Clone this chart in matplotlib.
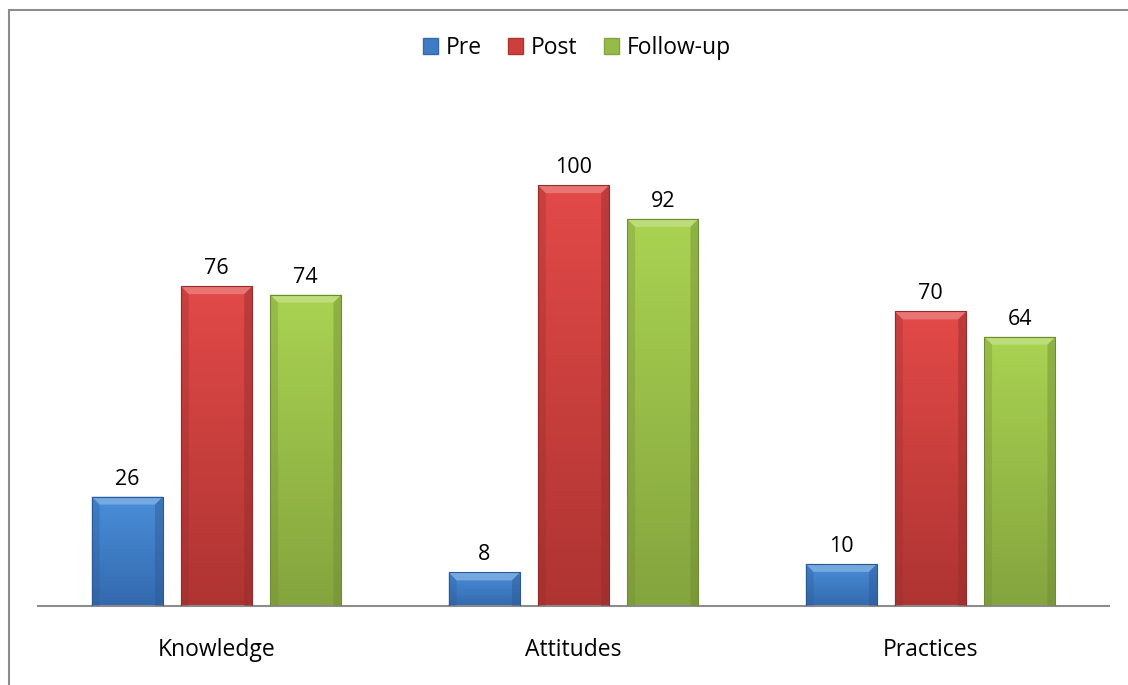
import numpy as np
import matplotlib
matplotlib.use("Agg")
import matplotlib.pyplot as plt
from matplotlib.patches import Patch, Polygon, Rectangle
from matplotlib.colors import LinearSegmentedColormap, to_rgb

categories = ["Knowledge", "Attitudes", "Practices"]
series = ["Pre", "Post", "Follow-up"]
pre = [26, 8, 10]
post = [76, 100, 70]
follow = [74, 92, 64]
values = [pre, post, follow]

top_colors = ["#4A8FD9", "#E24A48", "#AAD352"]
bot_colors = ["#3469AE", "#AE3432", "#84A43E"]
mid_colors = ["#3F7CC4", "#CC3F3D", "#97BB48"]

plt.rcParams["font.family"] = ["Open Sans", "DejaVu Sans"]

fig = plt.figure(figsize=(11.28, 6.85), dpi=100)
ax = fig.add_axes([38/1128, 1-606/685, (1109-38)/1128, (606-101)/685])
ax.set_xlim(-0.5, 2.5)
ax.set_ylim(0, 120)

x = np.arange(len(categories))
width = 0.2
offsets = [-0.25, 0.0, 0.25]

px_x = 3.0/1071.0
px_y = 120.0/505.0
bev = 8

for i, (vals, tc, bc) in enumerate(zip(values, top_colors, bot_colors)):
    bars = ax.bar(x + offsets[i], vals, width, color=mid_colors[i], zorder=2,
                  edgecolor="none", label=series[i])
    cmap = LinearSegmentedColormap.from_list("g%d" % i, [bc, tc])
    for b, v in zip(bars, vals):
        x0, w, h = b.get_x(), b.get_width(), b.get_height()
        grad = np.linspace(0, 1, 256).reshape(-1, 1)
        im = ax.imshow(grad, cmap=cmap, origin="lower", aspect="auto",
                       extent=(x0, x0 + w, 0, h), zorder=2.5)
        im.set_clip_path(b)
        dx = bev * px_x
        dy = min(bev * px_y, h / 2)
        light = tuple(min(1, c + (1 - c) * 0.3) for c in to_rgb(tc))
        ax.add_patch(Polygon([(x0, h), (x0 + w, h), (x0 + w - dx, h - dy), (x0 + dx, h - dy)],
                             closed=True, facecolor=light, edgecolor="none", zorder=3, alpha=0.8))
        dark = tuple(c * 0.85 for c in to_rgb(bc))
        ax.add_patch(Polygon([(x0, 0), (x0, h), (x0 + dx, h - dy), (x0 + dx, 0)],
                             closed=True, facecolor=dark, edgecolor="none", zorder=3, alpha=0.3))
        ax.add_patch(Polygon([(x0 + w, 0), (x0 + w, h), (x0 + w - dx, h - dy), (x0 + w - dx, 0)],
                             closed=True, facecolor=dark, edgecolor="none", zorder=3, alpha=0.45))
        ax.add_patch(Rectangle((x0, 0), w, h, facecolor="none", edgecolor=dark,
                               linewidth=0.8, zorder=3.5))
        ax.annotate(f"{v}", (x0 + w/2, h), xytext=(0, 5), textcoords="offset points",
                    ha="center", va="bottom", fontsize=15.5, color="#000000")

for s in ["top", "right", "left"]:
    ax.spines[s].set_visible(False)
ax.spines["bottom"].set_color("#8C8C8C")
ax.spines["bottom"].set_linewidth(1.5)
ax.set_yticks([])
ax.set_xticks(x)
ax.set_xticklabels(categories, fontsize=16.5)
ax.tick_params(axis="x", length=0, pad=23)

handles = [Patch(facecolor=mid_colors[i], edgecolor=bot_colors[i], label=series[i]) for i in range(3)]
fig.legend(handles=handles, loc="center", bbox_to_anchor=(577/1128, 1-48/685), ncol=3,
           frameon=False, fontsize=16.5, handlelength=0.65, handleheight=0.65,
           handletextpad=0.35, columnspacing=1.15)

fig.add_artist(Rectangle((8.5/1128, -0.1), 1.2, 1.1 - 10/685, transform=fig.transFigure,
                         fill=False, edgecolor="#8C8C8C", linewidth=1.5))

fig.savefig("out.png", dpi=100)
